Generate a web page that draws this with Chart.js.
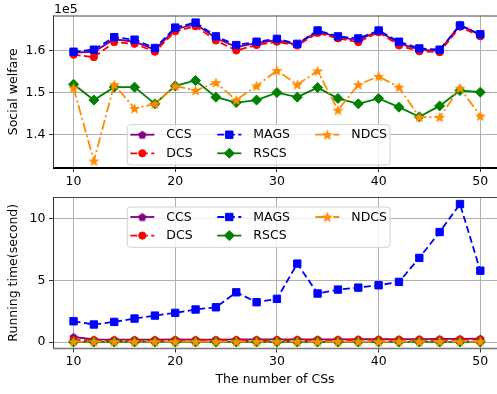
<!DOCTYPE html>
<html>
<head>
<meta charset="utf-8">
<script src="https://cdn.jsdelivr.net/npm/chart.js@4/dist/chart.umd.min.js"></script>
<style>
  html, body { margin: 0; padding: 0; background: #fff; overflow: hidden; }
  #wrap { position: relative; width: 497px; height: 394px; }
  canvas { position: absolute; left: 0; }
  #welfare-chart { top: 0; }
  #runtime-chart { top: 180px; }
</style>
</head>
<body>
<div id="wrap">
  <canvas id="welfare-chart" width="497" height="190"></canvas>
  <canvas id="runtime-chart" width="497" height="214"></canvas>
</div>
<script>
// Number of charging stations on the x axis
const numCS = [10, 12, 14, 16, 18, 20, 22, 24, 26, 28, 30, 32, 34, 36, 38, 40, 42, 44, 46, 48, 50];

// Social welfare per scheme
const welfareCCS  = [159600, 159800, 162800, 162200, 160300, 165200, 166400, 163100, 160900, 161900, 162600, 161500, 164700, 163300, 162600, 164800, 161800, 160300, 160000, 166300, 163800];
const welfareDCS  = [159100, 158500, 162100, 161700, 159800, 164700, 165900, 162500, 160100, 161400, 162200, 161300, 164300, 163000, 162100, 164500, 161300, 159900, 159700, 165800, 163500];
const welfareMAGS = [159800, 160300, 163300, 162700, 160700, 165600, 166800, 163500, 161400, 162200, 162900, 161700, 164900, 163500, 163000, 164900, 162200, 160600, 160300, 166100, 164000];
const welfareRSCS = [152000, 148200, 151300, 151300, 147300, 151600, 152900, 148900, 147600, 148200, 150000, 148900, 151200, 148600, 147300, 148600, 146500, 144200, 146800, 150500, 150100];
const welfareNDCS = [151100, 133600, 151900, 146200, 147300, 151600, 150500, 152400, 148200, 151600, 155300, 151900, 155200, 145800, 151900, 153900, 151300, 144100, 144100, 151100, 144400];

// Running time (seconds) per scheme
const timeCCS  = [0.42, 0.22, 0.21, 0.21, 0.21, 0.22, 0.21, 0.21, 0.22, 0.22, 0.22, 0.23, 0.23, 0.23, 0.24, 0.24, 0.25, 0.25, 0.26, 0.27, 0.28];
const timeDCS  = [0.18, 0.15, 0.15, 0.15, 0.15, 0.16, 0.15, 0.16, 0.16, 0.16, 0.17, 0.17, 0.17, 0.17, 0.18, 0.18, 0.18, 0.19, 0.19, 0.2, 0.21];
const timeMAGS = [1.69, 1.43, 1.64, 1.91, 2.15, 2.37, 2.64, 2.82, 4.03, 3.23, 3.50, 6.35, 3.93, 4.25, 4.41, 4.60, 4.87, 6.81, 8.90, 11.16, 5.78];
const timeRSCS = [0.02, 0.02, 0.02, 0.02, 0.02, 0.02, 0.02, 0.02, 0.02, 0.02, 0.02, 0.02, 0.02, 0.02, 0.02, 0.02, 0.02, 0.02, 0.02, 0.02, 0.02];
const timeNDCS = [0.05, 0.05, 0.05, 0.05, 0.05, 0.05, 0.05, 0.05, 0.05, 0.05, 0.05, 0.05, 0.05, 0.05, 0.05, 0.05, 0.05, 0.05, 0.05, 0.05, 0.05];

const xTicks = [10, 20, 30, 40, 50];
const welfareTicks = [140000, 150000, 160000];
const timeTicks = [0, 5, 10];

const FONT = 'DejaVu Sans';
const gridColor = '#b0b0b0';

// Small canvas markers for the shapes Chart.js does not have
function makeMarker(size, draw) {
  const c = document.createElement('canvas');
  c.width = size;
  c.height = size;
  draw(c.getContext('2d'), size / 2);
  return c;
}

function polygon(g, c, pts, color) {
  g.beginPath();
  pts.forEach((p, i) => i ? g.lineTo(c + p[0], c + p[1]) : g.moveTo(c + p[0], c + p[1]));
  g.closePath();
  g.fillStyle = color;
  g.fill();
}

const pentagon = makeMarker(11, (g, c) => {
  const pts = [];
  for (let i = 0; i < 5; i++) {
    const a = -Math.PI / 2 + i * 2 * Math.PI / 5;
    pts.push([Math.cos(a) * 4.4, Math.sin(a) * 4.4 + 0.4]);
  }
  polygon(g, c, pts, '#800080');
});

const star = makeMarker(13, (g, c) => {
  const pts = [];
  for (let i = 0; i < 10; i++) {
    const a = -Math.PI / 2 + i * Math.PI / 5;
    const r = i % 2 ? 2.6 : 5.8;
    pts.push([Math.cos(a) * r, Math.sin(a) * r + 0.5]);
  }
  polygon(g, c, pts, '#ff8c00');
});

// Line / marker style of each scheme
const styles = {
  CCS:  { borderColor: '#800080', backgroundColor: '#800080', borderDash: [], pointStyle: pentagon, pointRadius: 5, order: 4 },
  DCS:  { borderColor: '#ff0000', backgroundColor: '#ff0000', borderDash: [7, 3.5], pointStyle: 'circle', pointRadius: 3.6, order: 3 },
  MAGS: { borderColor: '#0000ff', backgroundColor: '#0000ff', borderDash: [7, 3.5], pointStyle: 'rect', pointRadius: 5.2, order: 2 },
  RSCS: { borderColor: '#008000', backgroundColor: '#008000', borderDash: [], pointStyle: 'rectRot', pointRadius: 5, order: 1 },
  NDCS: { borderColor: '#ff8c00', backgroundColor: '#ff8c00', borderDash: [10, 3, 2, 3], pointStyle: star, pointRadius: 6, order: 0 }
};

function makeDataset(label, values) {
  const s = styles[label];
  return {
    label: label,
    data: numCS.map((x, i) => ({ x: x, y: values[i] })),
    borderColor: s.borderColor,
    backgroundColor: s.backgroundColor,
    borderDash: s.borderDash,
    borderWidth: 1.8,
    pointStyle: s.pointStyle,
    pointRadius: s.pointRadius,
    pointBorderWidth: 1,
    pointBackgroundColor: s.backgroundColor,
    pointBorderColor: s.borderColor,
    tension: 0,
    order: s.order
  };
}

// Two-column style legend in a rounded frame, drawn inside the axes
const boxLegend = {
  id: 'boxLegend',
  afterDraw(chart, args, opts) {
    const ctx = chart.ctx;
    const { left, top, width, height } = opts;
    ctx.save();
    ctx.beginPath();
    ctx.roundRect(left, top, width, height, 3);
    ctx.fillStyle = 'rgba(255,255,255,0.8)';
    ctx.fill();
    ctx.strokeStyle = '#d0d0d0';
    ctx.lineWidth = 1;
    ctx.stroke();

    const colX = [left + 3, left + 90, left + 188];
    const rowY = [top + 10, top + 28.6];
    const order = ['CCS', 'DCS', 'MAGS', 'RSCS', 'NDCS'];
    order.forEach((name, i) => {
      const ds = chart.data.datasets.find(d => d.label === name);
      const x = colX[Math.floor(i / 2)];
      const y = rowY[i % 2];
      ctx.beginPath();
      ctx.setLineDash(ds.borderDash);
      ctx.strokeStyle = ds.borderColor;
      ctx.lineWidth = 1.8;
      ctx.moveTo(x, y);
      ctx.lineTo(x + 24, y);
      ctx.stroke();
      ctx.setLineDash([]);
      ctx.fillStyle = ds.backgroundColor;
      ctx.strokeStyle = ds.borderColor;
      ctx.lineWidth = 1;
      Chart.helpers.drawPoint(ctx, {
        pointStyle: ds.pointStyle,
        radius: ds.pointRadius,
        rotation: 0,
        borderWidth: 1
      }, x + 12, y);
      ctx.fillStyle = '#000';
      ctx.font = '12.5px "' + FONT + '"';
      ctx.textBaseline = 'middle';
      ctx.textAlign = 'left';
      ctx.fillText(name, x + 36, y + 0.5);
    });
    ctx.restore();
  }
};

// Axes frame lines
const spines = {
  id: 'spines',
  afterDatasetsDraw(chart, args, opts) {
    const { left, right, top, bottom } = chart.chartArea;
    const ctx = chart.ctx;
    ctx.save();
    const line = (x1, y1, x2, y2, color, w) => {
      ctx.beginPath();
      ctx.strokeStyle = color;
      ctx.lineWidth = w;
      ctx.moveTo(x1, y1);
      ctx.lineTo(x2, y2);
      ctx.stroke();
    };
    line(left, top + 0.5, right, top + 0.5, '#444', 1);
    line(left + 0.5, top, left + 0.5, bottom, '#333', 1);
    line(left, bottom, right, bottom, opts.bottomColor, opts.bottomWidth);
    if (opts.offsetText) {
      ctx.fillStyle = '#000';
      ctx.font = '12.5px "' + FONT + '"';
      ctx.textBaseline = 'alphabetic';
      ctx.textAlign = 'left';
      ctx.fillText(opts.offsetText, left + 1, 12.5);
    }
    ctx.restore();
  }
};

function fixedTicks(values) {
  return scale => { scale.ticks = values.map(v => ({ value: v })); };
}

function xScale(withTitle, height) {
  return {
    type: 'linear',
    min: 7.98,
    max: 51.64,
    afterBuildTicks: fixedTicks(xTicks),
    afterFit: s => {
      s.height = height;
      s.paddingLeft = 0;
      s.paddingRight = 0;
    },
    grid: { color: gridColor, lineWidth: 1, tickLength: 4, tickColor: '#333' },
    border: { display: false },
    ticks: { color: '#000', font: { family: FONT, size: 12.5 }, padding: 2, maxRotation: 0, autoSkip: false },
    title: {
      display: withTitle,
      text: 'The number of CSs',
      color: '#000',
      font: { family: FONT, size: 12.5 },
      padding: { top: 0, bottom: 6.5 }
    }
  };
}

function yScale(min, max, ticks, title, fmt) {
  return {
    min: min,
    max: max,
    afterBuildTicks: fixedTicks(ticks),
    afterFit: s => {
      s.width = 53;
      s.paddingTop = 0;
      s.paddingBottom = 0;
    },
    grid: { color: gridColor, lineWidth: 1, tickLength: 4, tickColor: '#333' },
    border: { display: false },
    ticks: { color: '#000', font: { family: FONT, size: 12.5 }, padding: 3.5, callback: fmt },
    title: {
      display: true,
      text: title,
      color: '#000',
      font: { family: FONT, size: 12.5 },
      padding: { top: 6.5, bottom: 0 }
    }
  };
}

const welfareChart = new Chart(document.getElementById('welfare-chart').getContext('2d'), {
  type: 'line',
  data: {
    datasets: [
      makeDataset('CCS', welfareCCS),
      makeDataset('DCS', welfareDCS),
      makeDataset('MAGS', welfareMAGS),
      makeDataset('RSCS', welfareRSCS),
      makeDataset('NDCS', welfareNDCS)
    ]
  },
  options: {
    responsive: false,
    animation: false,
    layout: { autoPadding: false, padding: { top: 15.5, right: 0, bottom: 0, left: 0 } },
    scales: {
      x: xScale(false, 22),
      y: yScale(131900, 168500, welfareTicks, 'Social welfare', v => (v / 1e5).toFixed(1))
    },
    plugins: {
      legend: { display: false },
      tooltip: { enabled: false },
      boxLegend: { left: 127.3, top: 124.7, width: 262.7, height: 40.3 },
      spines: { bottomColor: '#000', bottomWidth: 2.2, offsetText: '1e5' }
    }
  },
  plugins: [spines, boxLegend]
});

const runtimeChart = new Chart(document.getElementById('runtime-chart').getContext('2d'), {
  type: 'line',
  data: {
    datasets: [
      makeDataset('CCS', timeCCS),
      makeDataset('DCS', timeDCS),
      makeDataset('MAGS', timeMAGS),
      makeDataset('RSCS', timeRSCS),
      makeDataset('NDCS', timeNDCS)
    ]
  },
  options: {
    responsive: false,
    animation: false,
    layout: { autoPadding: false, padding: { top: 17, right: 0, bottom: 0, left: 0 } },
    scales: {
      x: xScale(true, 45.5),
      y: yScale(-0.51, 11.73, timeTicks, 'Running time(second)', v => String(v))
    },
    plugins: {
      legend: { display: false },
      tooltip: { enabled: false },
      boxLegend: { left: 127.3, top: 27, width: 262.7, height: 40.3 },
      spines: { bottomColor: '#777', bottomWidth: 1.6 }
    }
  },
  plugins: [spines, boxLegend]
});
</script>
</body>
</html>
